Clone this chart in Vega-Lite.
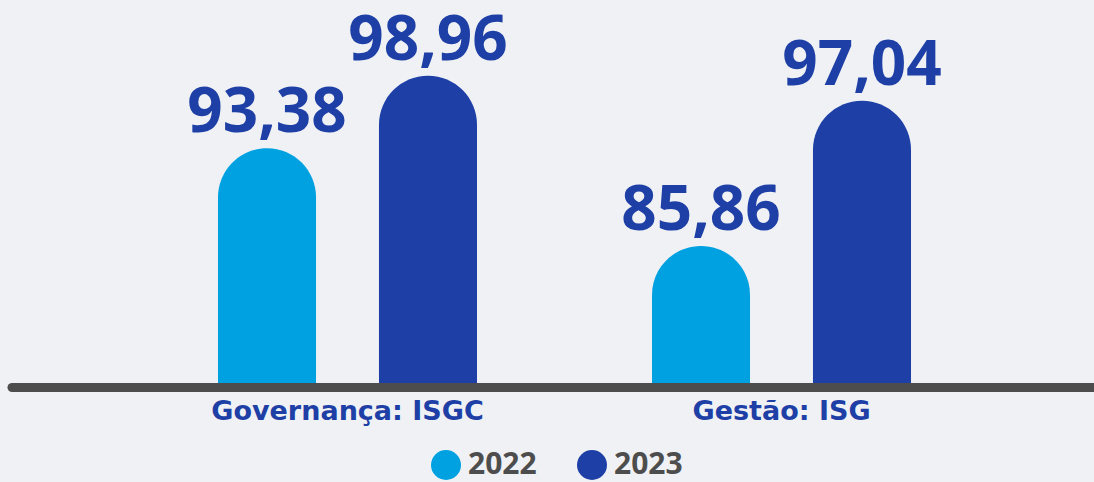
{
  "$schema": "https://vega.github.io/schema/vega-lite/v6.json",
  "width": 1082,
  "height": 383,
  "autosize": {"type": "none"},
  "padding": {"left": 12, "top": 0, "right": 0, "bottom": 99},
  "background": "#eff1f5",
  "config": {
    "view": {"stroke": null},
    "font": "Open Sans",
    "locale": {"number": {"decimal": ",", "thousands": ".", "grouping": [3], "currency": ["R$", ""]}}
  },
  "layer": [
    {
      "data": {
        "values": [
          {"categoria": "Governança: ISGC", "ano": "2022", "valor": 93.38},
          {"categoria": "Governança: ISGC", "ano": "2023", "valor": 98.96},
          {"categoria": "Gestão: ISG", "ano": "2022", "valor": 85.86},
          {"categoria": "Gestão: ISG", "ano": "2023", "valor": 97.04}
        ]
      },
      "encoding": {
        "x": {
          "field": "categoria", "type": "nominal", "sort": null,
          "scale": {"range": [118.5, 986.5], "paddingInner": 0, "paddingOuter": 0},
          "axis": {"title": null, "ticks": false, "domain": false, "labelAngle": 0, "labelFont": "DejaVu Sans", "labelFontSize": 27, "labelFontWeight": "bold", "labelColor": "#1e3fa5", "labelPadding": 15, "labelLimit": 500}
        },
        "xOffset": {"field": "ano", "type": "nominal", "scale": {"paddingInner": 0.391, "paddingOuter": 0.5435}},
        "y": {"field": "valor", "type": "quantitative", "scale": {"domain": [75.3, 104.8], "zero": false, "nice": false}, "axis": null}
      },
      "layer": [
        {
          "mark": {"type": "bar", "cornerRadiusTopLeft": 49, "cornerRadiusTopRight": 49},
          "encoding": {
            "y2": {"datum": 75.3},
            "color": {
              "field": "ano", "type": "nominal",
              "scale": {"domain": ["2022", "2023"], "range": ["#00a1e1", "#1e40a6"]},
              "legend": {"title": null, "orient": "none", "legendX": 419, "legendY": 450, "direction": "horizontal", "symbolType": "circle", "symbolSize": 900, "symbolOpacity": 1, "symbolStrokeWidth": 0, "labelFontSize": 30, "labelFontWeight": "bold", "labelColor": "#4d4d4d", "labelOffset": 7, "columnPadding": 40}
            }
          }
        },
        {
          "mark": {"type": "text", "baseline": "alphabetic", "dy": -16, "fontSize": 62, "fontWeight": "bold", "color": "#1e3fa5"},
          "encoding": {"text": {"field": "valor", "type": "quantitative", "format": ".2f"}}
        }
      ]
    },
    {
      "data": {"values": [{}]},
      "mark": {"type": "rule", "color": "#4d4d4d", "strokeWidth": 9, "strokeCap": "round"},
      "encoding": {"y": {"datum": 74.953}}
    }
  ]
}
